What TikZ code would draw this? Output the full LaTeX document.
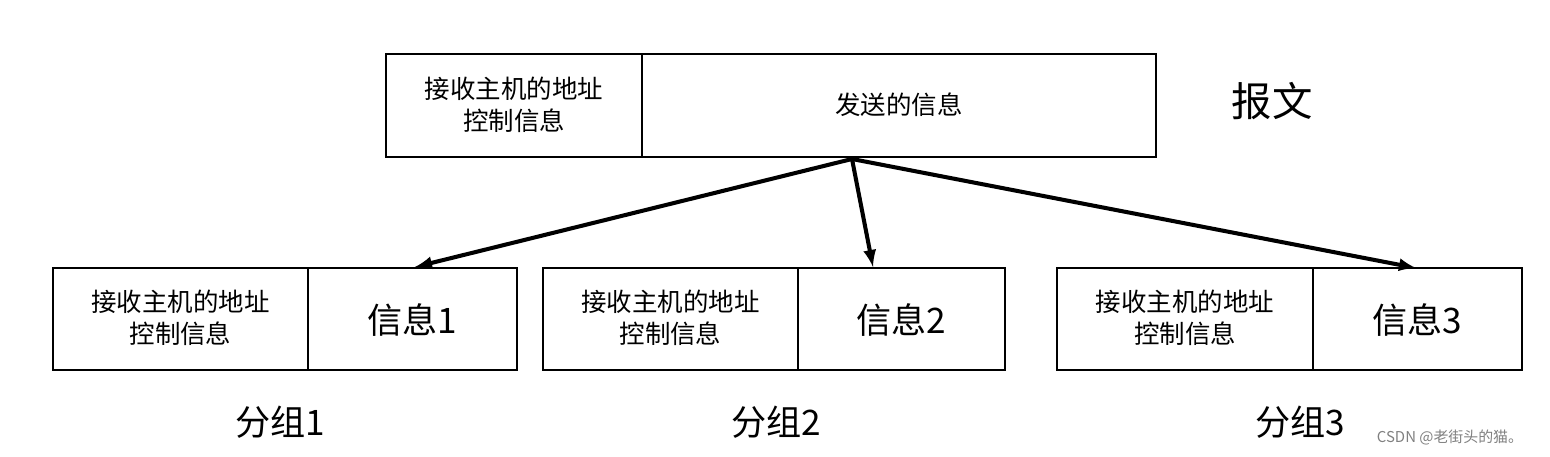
\documentclass[tikz,border=0pt]{standalone}
\usepackage{fontspec}
\setmainfont{Noto Sans CJK SC}
\begin{document}
\begin{tikzpicture}[x=0.02cm,y=-0.02cm,
  box/.style={draw,line width=1.1pt},
  small/.style={font=\fontsize{14.5}{18}\selectfont,align=center},
  big/.style={font=\fontsize{20}{24}\selectfont},
  arr/.style={line width=2.3pt,-latex}]
\useasboundingbox (0,0) rectangle (1550,456);
\draw[box] (386,54) rectangle (1156,157);
\draw[box] (642,54) -- (642,157);
\node[small] (h0) at (514,105) {接收主机的地址\\控制信息};
\node[small] (m0) at (899,105) {发送的信息};
\node[font=\fontsize{23}{26}\selectfont] (bw) at (1272,101) {报文};
\foreach \i/\a/\d/\b in {1/53/308/517,2/543/798/1005,3/1057/1313/1522}{
  \draw[box] (\a,268) rectangle (\b,370);
  \draw[box] (\d,268) -- (\d,370);
  \node[small] (h\i) at ({(\a+\d)/2},318) {接收主机的地址\\控制信息};
  \node[big] (m\i) at ({(\d+\b)/2},320) {信息\i};
}
\node[big] (g1) at (280,422) {分组1};
\node[big] (g2) at (776,422) {分组2};
\node[big] (g3) at (1300,422) {分组3};
\node[font=\fontsize{8.5}{10}\selectfont,text=gray] (wm) at (1450,437) {CSDN @老街头的猫。};
\coordinate (s) at (852,159);
\coordinate (t1) at (415,267);
\coordinate (t2) at (873,267);
\coordinate (t3) at (1416,268);
\draw[arr] (s) -- (t1);
\draw[arr] (s) -- (t2);
\draw[arr] (s) -- (t3);
\end{tikzpicture}
\end{document}
